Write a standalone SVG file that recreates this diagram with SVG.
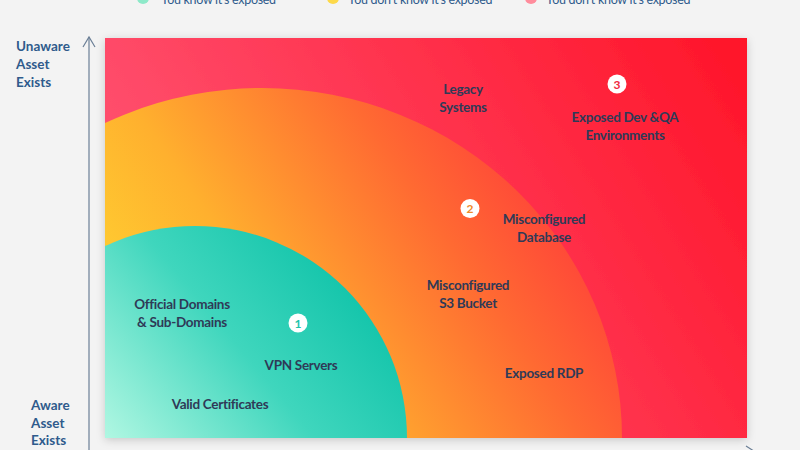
<svg xmlns="http://www.w3.org/2000/svg" width="800" height="450" viewBox="0 0 800 450">
  <style>
    .lbl{font-family:Lato,"Liberation Sans",sans-serif;font-weight:bold;font-size:13.5px;fill:#2f3a57;text-anchor:middle;letter-spacing:-0.3px}
    .axis{font-family:Lato,"Liberation Sans",sans-serif;font-weight:bold;font-size:13.5px;fill:#2f5b8c}
    .leg{font-family:Lato,"Liberation Sans",sans-serif;font-size:12.5px;fill:#2f5b8c;letter-spacing:-0.3px}
    .num{font-family:Lato,"Liberation Sans",sans-serif;font-weight:bold;font-size:12px;text-anchor:middle}
    .badge{fill:#ffffff}
    .ax{stroke:#6b7f96;stroke-width:1.2;fill:none}
  </style>
  <defs>
    <linearGradient id="gRed" gradientUnits="userSpaceOnUse" x1="747" y1="38" x2="105" y2="438">
      <stop offset="0" stop-color="#ff1428"/>
      <stop offset="0.55" stop-color="#ff3d5a"/>
      <stop offset="1" stop-color="#ff5f7e"/>
    </linearGradient>
    <linearGradient id="gOrange" gradientUnits="userSpaceOnUse" x1="105" y1="438" x2="540" y2="140">
      <stop offset="0" stop-color="#fee233"/>
      <stop offset="0.4" stop-color="#ffb02e"/>
      <stop offset="0.75" stop-color="#ff6a32"/>
      <stop offset="1" stop-color="#ff3d3a"/>
    </linearGradient>
    <linearGradient id="gGreen" gradientUnits="userSpaceOnUse" x1="105" y1="438" x2="330" y2="250">
      <stop offset="0" stop-color="#b0f7e2"/>
      <stop offset="0.55" stop-color="#3fd6bd"/>
      <stop offset="1" stop-color="#12c4aa"/>
    </linearGradient>
    <filter id="sh" x="-5%" y="-5%" width="110%" height="112%">
      <feDropShadow dx="0" dy="2" stdDeviation="4" flood-color="#000" flood-opacity="0.18"/>
    </filter>
    <clipPath id="cl"><rect x="105" y="38" width="642" height="400"/></clipPath>
  </defs>
  <rect width="800" height="450" fill="#f3f3f3"/>

  <g id="legend">
    <circle cx="143" cy="-2" r="6" fill="#8ee9c9"/>
    <text class="leg" x="161" y="4">You know it’s exposed</text>
    <circle cx="333" cy="-2" r="6" fill="#fdd94a"/>
    <text class="leg" x="348" y="4">You don’t know it’s exposed</text>
    <circle cx="531" cy="-2" r="6" fill="#ff8c9c"/>
    <text class="leg" x="546" y="4">You don’t know it’s exposed</text>
  </g>

  <g id="chart">
    <rect x="105" y="38" width="642" height="400" fill="url(#gRed)" filter="url(#sh)"/>
    <g clip-path="url(#cl)">
      <ellipse id="zone2" cx="262" cy="438" rx="360" ry="350" fill="url(#gOrange)"/>
      <circle id="zone1" cx="195" cy="438" r="212" fill="url(#gGreen)"/>
    </g>
  </g>

  <g id="connectors">
    <line class="ax" x1="89" y1="37" x2="89" y2="450"/>
    <polyline class="ax" points="83,47 89,37 95,47"/>
    <line class="ax" x1="105" y1="455" x2="760" y2="455"/>
    <polyline class="ax" points="746,446 760,455 746,464"/>
  </g>

  <g id="axis-labels">
    <text class="axis" x="16" y="51">Unaware</text>
    <text class="axis" x="16" y="69">Asset</text>
    <text class="axis" x="16" y="87">Exists</text>
    <text class="axis" x="31" y="410">Aware</text>
    <text class="axis" x="31" y="428">Asset</text>
    <text class="axis" x="31" y="445">Exists</text>
  </g>

  <g id="badge1"><circle class="badge" cx="298" cy="323" r="9.5"/><text class="num" x="298" y="327.5" fill="#1dc4ab">1</text></g>
  <g id="badge2"><circle class="badge" cx="470" cy="208.5" r="9.5"/><text class="num" x="470" y="213" fill="#f08a2a">2</text></g>
  <g id="badge3"><circle class="badge" cx="617" cy="84" r="9.5"/><text class="num" x="617" y="88.5" fill="#f0283e">3</text></g>

  <g id="n-legacy"><text class="lbl" x="463" y="94">Legacy</text><text class="lbl" x="463" y="112">Systems</text></g>
  <g id="n-devqa"><text class="lbl" x="625" y="122">Exposed Dev &amp;QA</text><text class="lbl" x="625" y="140">Environments</text></g>
  <g id="n-db"><text class="lbl" x="544" y="224">Misconfigured</text><text class="lbl" x="544" y="242">Database</text></g>
  <g id="n-s3"><text class="lbl" x="468" y="290">Misconfigured</text><text class="lbl" x="468" y="308">S3 Bucket</text></g>
  <g id="n-rdp"><text class="lbl" x="544" y="378">Exposed RDP</text></g>
  <g id="n-domains"><text class="lbl" x="182" y="309">Official Domains</text><text class="lbl" x="182" y="327">&amp; Sub-Domains</text></g>
  <g id="n-vpn"><text class="lbl" x="301" y="370">VPN Servers</text></g>
  <g id="n-certs"><text class="lbl" x="220" y="409">Valid Certificates</text></g>
</svg>
